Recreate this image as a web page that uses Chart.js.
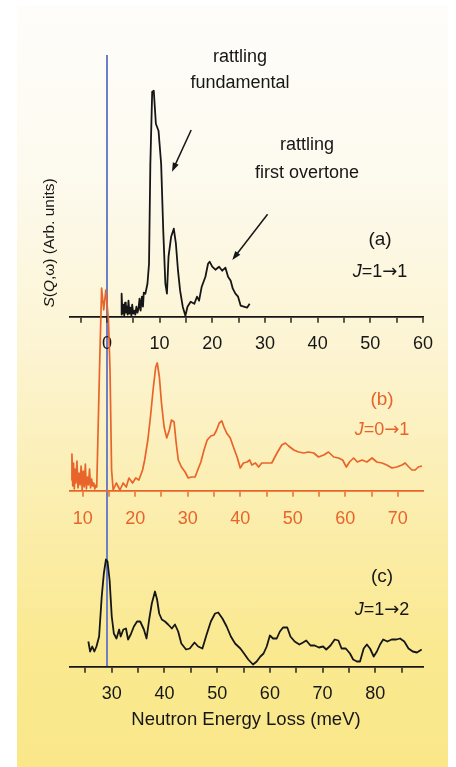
<!DOCTYPE html>
<html>
<head>
<meta charset="utf-8">
<script src="https://cdn.jsdelivr.net/npm/chart.js@4.4.0/dist/chart.umd.min.js"></script>
<style>
  html, body { margin: 0; padding: 0; background: #fff; }
  #wrap { position: relative; width: 456px; height: 767px; overflow: hidden; }
  #bg {
    position: absolute; left: 17px; top: 5px; width: 431px; height: 762px;
    background: linear-gradient(to bottom, #fefdfa 0%, #fdfaef 22%, #fcf4d2 45%, #fbeeb0 65%, #fae98f 85%, #fae78a 100%);
  }
  canvas { position: absolute; left: 0; top: 0; }
</style>
</head>
<body>
<div id="wrap">
  <div id="bg"></div>
  <canvas id="chart" width="456" height="767"></canvas>
</div>
<script>
// (a) J=1->1, energy axis -7..60 meV
const energyA = [2.7, 2.8, 2.95, 3.1, 3.3, 3.45, 3.6, 3.8, 3.95, 4.1, 4.3, 4.5, 4.65, 4.8, 5.0, 5.2, 5.4, 5.6, 5.8, 6.0,
  6.2, 6.4, 6.65, 6.85, 7.0, 7.3, 7.7, 8.0, 8.25, 8.6, 8.9, 9.3, 9.8, 10.3, 10.7, 11.1, 11.4, 11.7, 12.2, 12.7,
  13.1, 13.5, 13.9, 14.4, 14.9, 15.3, 15.9, 16.6, 17.1, 17.5, 18.0, 18.7, 19.2, 19.5, 20.0, 20.6, 21.3, 21.9, 22.5, 23.0,
  23.5, 23.9, 24.4, 24.9, 25.4, 26.0, 26.6, 27.1];
const intensityA = [2, 23, 3, 12, 1, 14, 4, 10, 2, 16, 3, 9, 1, 12, 3, 6, 2, 10, 4, 8,
  18, 6, 20, 10, 24, 23, 33, 53, 153, 225, 226, 193, 186, 153, 86, 33, 23, 60, 80, 88,
  73, 46, 26, 10, 1, 10, 15, 13, 20, 16, 30, 40, 53, 55, 50, 47, 50, 46, 49, 40,
  36, 28, 23, 20, 11, 10, 9, 13];

// (b) J=0->1
const energyB = [7.8, 7.95, 8.1, 8.25, 8.4, 8.55, 8.7, 8.9, 9.1, 9.3, 9.5, 9.7, 9.9, 10.1, 10.3, 10.5, 10.7, 10.9, 11.1, 11.3,
  11.5, 11.7, 11.9, 12.1, 12.3, 12.5, 12.67,
  13.2, 13.6, 14.0, 14.4, 14.9, 15.2, 15.5, 15.8, 16.4, 17.1, 17.7, 18.3, 18.8, 19.5, 20.1, 20.7, 21.4, 21.8, 22.4, 22.9,
  23.4, 23.9, 24.2, 24.6, 25.0, 25.5, 26.0, 26.5, 26.9, 27.4, 27.8, 28.2, 28.8, 29.5, 30.1, 30.7, 31.4, 31.9, 32.5, 33.1,
  33.7, 34.4, 35.0, 35.5, 36.0, 36.5, 36.9, 37.4, 38.1, 38.7, 39.4, 40.0, 40.6, 41.3, 41.8, 42.2, 42.9, 43.5, 44.1, 45.1,
  46.0, 47.0, 47.9, 48.6, 49.2, 50.2, 51.1, 52.1, 53.0, 54.0, 54.9, 55.9, 56.8, 57.8, 58.7, 59.5, 60.2, 60.8, 61.6, 62.3,
  63.2, 64.1, 65.1, 66.0, 67.0, 67.9, 68.9, 69.8, 70.8, 71.4, 72.1, 72.7, 73.3, 73.9, 74.6];
const intensityB = [11, 37, 5, 28, 2, 22, 8, 30, 3, 18, 6, 25, 1, 20, 4, 27, 2, 14, 6, 22,
  3, 12, 5, 8, 2, 6, 4,
  121, 203, 181, 201, 171, 121, 21, 1, 8, 1, 8, 4, 13, 8, 13, 11, 21, 31, 51, 74,
  101, 124, 128, 114, 88, 64, 53, 61, 71, 69, 48, 31, 24, 19, 13, 14, 14, 21, 29, 41,
  51, 55, 56, 61, 68, 70, 64, 58, 53, 44, 34, 23, 28, 29, 31, 26, 28, 24, 28, 28,
  28, 38, 46, 48, 45, 41, 39, 38, 39, 38, 34, 36, 39, 34, 33, 31, 24, 29, 33, 29,
  31, 29, 33, 29, 28, 26, 23, 24, 26, 28, 24, 21, 21, 24, 25];

// (c) J=1->2
const energyC = [25.56, 25.9, 26.3, 26.7, 27.1, 27.6, 28.1, 28.5, 28.9, 29.2, 29.6, 30.0, 30.4, 30.9, 31.4, 31.7, 32.2, 32.7, 33.1, 33.6,
  34.2, 34.8, 35.4, 36.1, 36.6, 37.1, 37.6, 38.2, 38.6, 39.0, 39.5, 40.1, 40.7, 41.4, 42.0, 42.6, 43.2, 44.1, 44.8, 45.7,
  46.4, 47.2, 48.0, 48.8, 49.6, 50.2, 51.0, 51.8, 52.6, 53.4, 54.4, 55.1, 55.9, 56.8, 57.5, 58.2, 58.8, 59.4, 60.0, 60.6,
  61.3, 61.9, 62.5, 63.3, 63.9, 64.7, 65.6, 66.3, 66.9, 67.7, 68.5, 69.3, 70.1, 70.7, 71.5, 72.3, 73.0, 73.6, 74.4, 75.2,
  75.8, 76.5, 77.1, 77.8, 78.4, 79.0, 79.7, 80.3, 80.9, 81.5, 82.3, 83.1, 84.0, 84.7, 85.5, 86.3, 87.1, 87.9, 88.8];
const intensityC = [25, 15, 20, 15, 20, 30, 70, 93, 107, 105, 86, 50, 33, 28, 37, 30, 37, 38, 27, 32,
  40, 45, 45, 37, 28, 47, 63, 75, 67, 53, 47, 45, 42, 38, 42, 35, 23, 17, 18, 24,
  20, 18, 32, 45, 53, 54, 48, 40, 30, 23, 18, 13, 7, 2, 5, 10, 13, 20, 31, 28,
  28, 35, 39, 39, 30, 25, 22, 24, 26, 21, 21, 19, 20, 17, 21, 27, 26, 18, 18, 13,
  7, 5, 5, 18, 22, 18, 10, 15, 22, 27, 25, 27, 27, 28, 25, 18, 15, 14, 17];

const FONT = '"Liberation Sans", Arial, Helvetica, sans-serif';
const ARROW_FONT = '"DejaVu Sans", sans-serif';
const INK = '#161616';
const ORANGE = '#e8642a';
const BLUE = '#6d7fc6';

const toPoints = (xs, ys) => xs.map((x, i) => ({ x: x, y: ys[i] }));

// text made of pieces [text, italic, family?], centred on x
function richText(ctx, parts, x, y, size, color) {
  const fontFor = p => (p[1] ? 'italic ' : '') + size + 'px ' + (p[2] || FONT);
  let w = 0;
  parts.forEach(p => { ctx.font = fontFor(p); w += ctx.measureText(p[0]).width; });
  let cx = x - w / 2;
  ctx.fillStyle = color;
  ctx.textAlign = 'left';
  ctx.textBaseline = 'middle';
  parts.forEach(p => {
    ctx.font = fontFor(p);
    ctx.fillText(p[0], cx, y);
    cx += ctx.measureText(p[0]).width;
  });
}

function transition(from, to) {
  return [['J', 1], ['=' + from, 0], ['\u2192', 0, ARROW_FONT], [to, 0]];
}

function arrow(ctx, x1, y1, x2, y2) {
  const ang = Math.atan2(y2 - y1, x2 - x1);
  const len = 9, half = 3.2;
  ctx.strokeStyle = INK;
  ctx.fillStyle = INK;
  ctx.lineWidth = 1.5;
  ctx.beginPath();
  ctx.moveTo(x1, y1);
  ctx.lineTo(x2 - Math.cos(ang) * len * 0.8, y2 - Math.sin(ang) * len * 0.8);
  ctx.stroke();
  ctx.beginPath();
  ctx.moveTo(x2, y2);
  ctx.lineTo(x2 - Math.cos(ang) * len + Math.sin(ang) * half, y2 - Math.sin(ang) * len - Math.cos(ang) * half);
  ctx.lineTo(x2 - Math.cos(ang) * len - Math.sin(ang) * half, y2 - Math.sin(ang) * len + Math.cos(ang) * half);
  ctx.closePath();
  ctx.fill();
}

const labelsPlugin = {
  id: 'labels',
  afterDraw(chart) {
    const { ctx } = chart;
    const xa = chart.scales.xa, ya = chart.scales.ya;
    ctx.save();

    // arrows point at the peaks of panel (a)
    arrow(ctx, xa.getPixelForValue(16.0), ya.getPixelForValue(186.7), xa.getPixelForValue(12.36), ya.getPixelForValue(145));
    arrow(ctx, xa.getPixelForValue(30.5), ya.getPixelForValue(102.4), xa.getPixelForValue(23.8), ya.getPixelForValue(56.7));

    richText(ctx, [['rattling', 0]], 240, 57, 18, INK);
    richText(ctx, [['fundamental', 0]], 240, 83, 18, INK);
    richText(ctx, [['rattling', 0]], 307, 145, 18, INK);
    richText(ctx, [['first overtone', 0]], 307, 173, 18, INK);

    richText(ctx, [['(a)', 0]], 380, 240, 19, INK);
    richText(ctx, transition('1', '1'), 380, 272, 18, INK);
    richText(ctx, [['(b)', 0]], 382, 400, 19, ORANGE);
    richText(ctx, transition('0', '1'), 382, 430, 18, ORANGE);
    richText(ctx, [['(c)', 0]], 382, 577, 19, INK);
    richText(ctx, transition('1', '2'), 382, 610, 18, INK);

    richText(ctx, [['Neutron Energy Loss (meV)', 0]], 246, 720, 18.5, INK);

    ctx.translate(50, 243);
    ctx.rotate(-Math.PI / 2);
    richText(ctx, [['S', 1], ['(', 0], ['Q', 1], [',\u03c9) (Arb. units)', 0]], 0, 0, 15.5, INK);
    ctx.restore();
  }
};

function energyAxis(min, max, at, color, gridColor) {
  return {
    type: 'linear',
    axis: 'x',
    position: at,
    min: min,
    max: max,
    // a tick every 5 meV, labels every 10
    afterBuildTicks: s => {
      const ticks = [];
      for (let v = Math.ceil(s.min / 5) * 5; v <= s.max + 1e-9; v += 5) ticks.push({ value: v });
      s.ticks = ticks;
    },
    ticks: {
      autoSkip: false,
      maxRotation: 0,
      padding: 12,
      color: color,
      font: { family: FONT, size: 18 },
      callback: v => (Math.round(v) % 10 === 0 ? String(Math.round(v)) : '')
    },
    grid: {
      drawOnChartArea: !!gridColor,
      color: gridColor || 'rgba(0,0,0,0)',
      lineWidth: 2,
      tickLength: 5,
      tickColor: color,
      tickWidth: 1.4
    },
    border: { display: true, color: color, width: 1.7 }
  };
}

new Chart(document.getElementById('chart'), {
  type: 'line',
  data: {
    datasets: [
      { label: 'J=1\u21921', data: toPoints(energyA, intensityA), xAxisID: 'xa', yAxisID: 'ya', borderColor: INK, borderWidth: 1.8 },
      { label: 'J=0\u21921', data: toPoints(energyB, intensityB), xAxisID: 'xb', yAxisID: 'yb', borderColor: ORANGE, borderWidth: 1.7 },
      { label: 'J=1\u21922', data: toPoints(energyC, intensityC), xAxisID: 'xc', yAxisID: 'yc', borderColor: INK, borderWidth: 1.8 }
    ]
  },
  options: {
    responsive: false,
    animation: false,
    layout: { padding: { left: 70, right: 33, top: 55, bottom: 100 } },
    elements: {
      point: { radius: 0 },
      line: { tension: 0, borderJoinStyle: 'round', fill: false }
    },
    plugins: {
      legend: { display: false },
      tooltip: { enabled: false },
      title: { display: false }
    },
    scales: {
      ya: { type: 'linear', axis: 'y', display: false, min: -350.3, max: 261.7 },
      yb: { type: 'linear', axis: 'y', display: false, min: -176, max: 436 },
      yc: { type: 'linear', axis: 'y', display: false, min: -0.5, max: 611.5 },
      xa: energyAxis(-7, 60, { ya: 0 }, INK,
        ctx => (ctx.tick && ctx.tick.value === 0 ? BLUE : 'rgba(0,0,0,0)')),
      xb: energyAxis(7.58, 74.8, { yb: 0 }, ORANGE),
      xc: energyAxis(22.08, 89.05, { yc: 0 }, INK)
    }
  },
  plugins: [labelsPlugin]
});
</script>
</body>
</html>
